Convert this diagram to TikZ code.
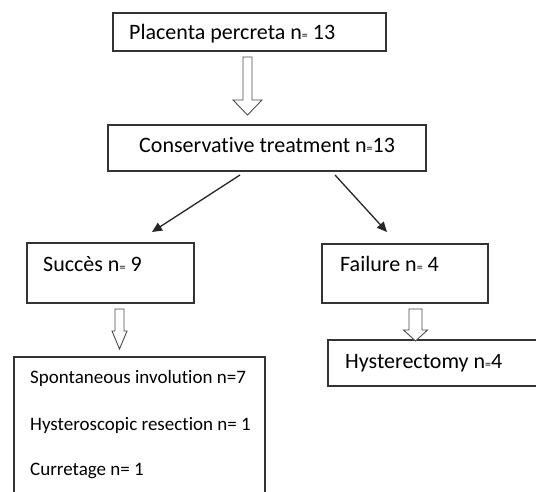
\documentclass[tikz,border=0pt]{standalone}
\usepackage{fontspec}
\setmainfont{Carlito}[Ligatures={NoCommon,NoRare,NoContextual}]
\usetikzlibrary{arrows.meta}
\newcommand{\smeq}{{\fontsize{12}{12}\selectfont =}}
\tikzset{
  box/.style={draw=black!80, line width=1.2pt, rectangle, inner sep=0pt},
  lbl/.style={anchor=base west, inner sep=0pt, font=\fontsize{22}{24}\selectfont, text=black},
  sublbl/.style={anchor=base west, inner sep=0pt, font=\fontsize{19}{22}\selectfont, text=black},
  diag/.style={draw=black!85, line width=1.3pt, -{Triangle[length=10pt,width=9pt]}},
  hollow/.style={draw=black!70, line width=0.9pt, fill=white, line join=miter},
}
\newcommand{\hollowarrow}[6]{% x, ytop, yhead, ytip, shafthalf, headhalf
  \path[hollow] (#1-#5,#2) -- (#1+#5,#2) -- (#1+#5,#3) -- (#1+#6,#3) -- (#1,#4)
     -- (#1-#6,#3) -- (#1-#5,#3) -- cycle;}
\begin{document}
\begin{tikzpicture}[x=1pt,y=-1pt]
\useasboundingbox (0,0) rectangle (536,492);
\clip (0,0) rectangle (536,492);
\fill[white] (0,0) rectangle (536,492);
% boxes
\node[box, minimum width=273pt, minimum height=38pt] (b1) at (249.5,32) {};
\node[box, minimum width=318pt, minimum height=46pt] (b2) at (267,148) {};
\node[box, minimum width=167pt, minimum height=60pt] (b3) at (110.5,273) {};
\node[box, minimum width=166pt, minimum height=59pt] (b4) at (405,273.5) {};
\node[box, minimum width=251pt, minimum height=160pt] (b5) at (139.5,437) {};
\node[box, minimum width=230pt, minimum height=46pt] (b6) at (443,363) {};
% labels
\node[lbl] (t1) at (129,40) {Placenta percreta n\smeq\ 13};
\node[lbl] (t2) at (139,153) {Conservative treatment n\smeq13};
\node[lbl] (t3) at (43,271) {Succès n\smeq\ 9};
\node[lbl] (t4) at (340,271) {Failure n\smeq\ 4};
\node[lbl] (t6) at (345,368) {Hysterectomy n\smeq4};
\node[sublbl] (t5a) at (30,383) {Spontaneous involution n=7};
\node[sublbl] (t5b) at (30,430) {Hysteroscopic resection n= 1};
\node[sublbl] (t5c) at (30,475) {Curretage n= 1};
% hollow arrows
\hollowarrow{247.5}{57}{100}{115}{4.5}{14.5}
\hollowarrow{119.5}{309}{331}{349}{4.5}{7.5}
\hollowarrow{415.5}{309}{330}{341}{6.5}{12}
% diagonal arrows
\coordinate (d1s) at (240,175);
\coordinate (d1e) at (152,232);
\coordinate (d2s) at (335,175);
\coordinate (d2e) at (387,232);
\draw[diag] (d1s) -- (d1e);
\draw[diag] (d2s) -- (d2e);
\end{tikzpicture}
\end{document}
